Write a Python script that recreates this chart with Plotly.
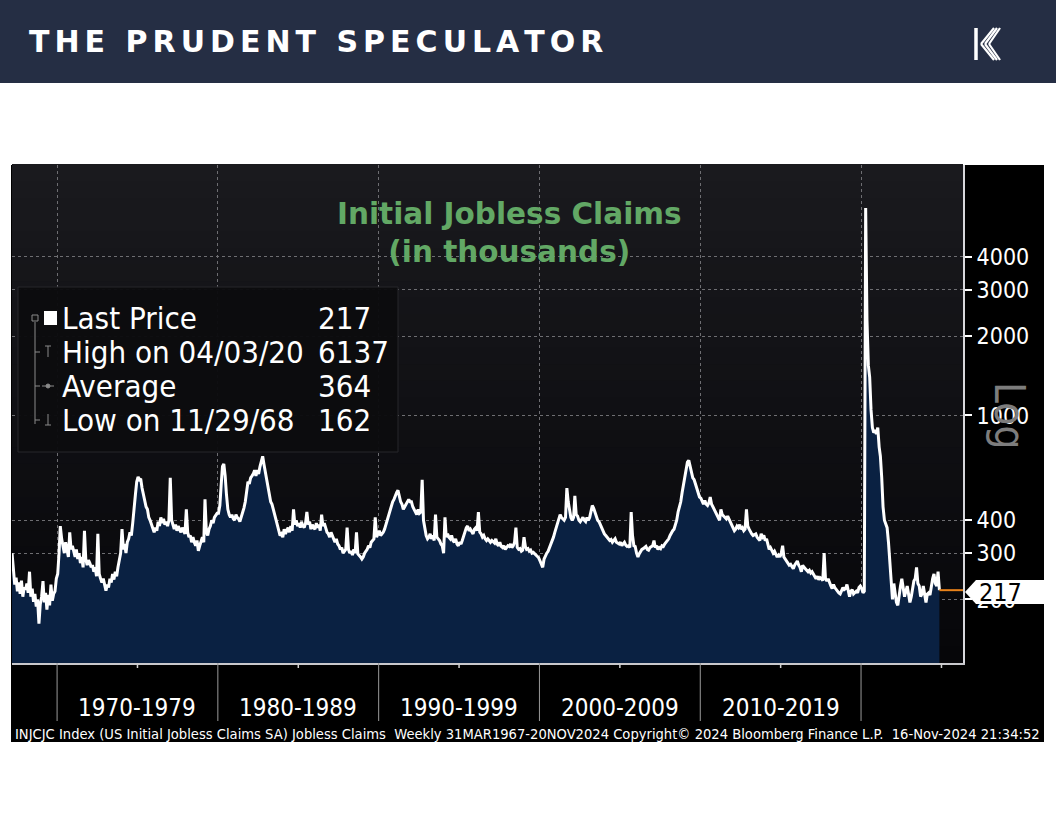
import pandas as pd
import plotly.graph_objects as go

# ---------------- data (thousands, monthly readings of the weekly series) ----------------
claims_1960s = [300, 250, 228, 242, 215, 232, 210, 236, 205, 222,            # 1967 Mar-Dec
                218, 230, 212, 255, 205, 220, 196, 210, 188, 200, 162, 192,  # 1968
                205, 235, 195, 212, 183, 208, 190, 228, 198, 210, 215, 240]  # 1969
claims_1970s = [250, 300, 380, 340, 320, 300, 330, 305, 290, 360, 310, 320,
                300, 290, 310, 285, 300, 275, 290, 265, 365, 285, 270, 282,
                275, 265, 270, 255, 265, 245, 355, 250, 240, 232, 240, 225,
                216, 228, 222, 240, 232, 250, 238, 255, 245, 265, 280, 300,
                370, 310, 325, 300, 330, 340, 360, 350, 390, 430, 500, 560,
                585, 570, 575, 530, 500, 470, 450, 440, 410, 400, 385, 370,
                360, 375, 365, 395, 380, 410, 390, 405, 385, 395, 380, 400,
                580, 400, 380, 370, 385, 365, 380, 372, 360, 375, 365, 355,
                440, 360, 345, 350, 330, 345, 330, 320, 335, 306, 320, 330,
                345, 330, 480, 360, 350, 370, 380, 400, 390, 410, 420, 425]
claims_1980s = [425, 455, 540, 640, 655, 590, 500, 440, 420, 410, 420, 405,
                400, 420, 410, 405, 395, 410, 420, 445, 470, 520, 560, 550,
                580, 590, 600, 620, 590, 620, 600, 640, 680, 700, 650, 610,
                560, 520, 500, 470, 460, 440, 420, 405, 380, 365, 350, 355,
                345, 370, 355, 365, 375, 360, 380, 365, 440, 385, 400, 380,
                390, 375, 395, 380, 375, 390, 430, 385, 395, 370, 385, 375,
                370, 390, 375, 385, 365, 420, 380, 390, 370, 360, 355, 345,
                360, 345, 340, 330, 340, 325, 320, 310, 315, 300, 305, 310,
                375, 310, 300, 305, 295, 310, 300, 360, 298, 295, 290, 285,
                290, 300, 305, 310, 320, 315, 330, 335, 340, 410, 345, 355]
claims_1990s = [365, 350, 355, 360, 370, 385, 400, 420, 440, 460, 470, 480,
                500, 510, 520, 490, 470, 460, 440, 450, 460, 470, 480, 470,
                470, 450, 440, 430, 420, 440, 425, 430, 570, 400, 370, 350,
                340, 345, 355, 340, 350, 335, 420, 345, 340, 335, 325, 320,
                300, 410, 345, 355, 345, 340, 350, 335, 330, 340, 325, 320,
                330, 325, 335, 350, 365, 375, 380, 365, 370, 360, 355, 370,
                375, 365, 430, 360, 355, 345, 350, 340, 335, 340, 335, 330,
                335, 330, 328, 340, 325, 320, 330, 318, 315, 320, 310, 315,
                320, 318, 325, 315, 320, 330, 375, 315, 310, 312, 305, 308,
                345, 318, 310, 312, 305, 308, 300, 302, 298, 296, 290, 288]
claims_2000s = [280, 272, 265, 285, 295, 300, 305, 315, 320, 330, 345, 360,
                375, 390, 400, 420, 410, 405, 400, 410, 530, 470, 430, 410,
                400, 410, 495, 420, 415, 400, 395, 405, 410, 400, 395, 410,
                400, 410, 430, 455, 445, 430, 410, 400, 395, 385, 370, 365,
                355, 350, 345, 340, 335, 338, 330, 335, 340, 330, 328, 325,
                330, 320, 325, 330, 322, 318, 320, 315, 430, 350, 320, 318,
                300, 290, 298, 305, 310, 312, 315, 318, 310, 308, 315, 318,
                320, 335, 315, 320, 310, 315, 312, 320, 318, 325, 330, 338,
                340, 350, 360, 365, 370, 385, 400, 430, 450, 470, 510, 550,
                590, 630, 665, 675, 640, 610, 580, 570, 550, 530, 510, 490]
claims_2010s = [485, 470, 460, 475, 460, 455, 465, 490, 460, 450, 440, 425,
                420, 410, 400, 440, 420, 415, 410, 405, 415, 405, 395, 380,
                375, 365, 370, 380, 375, 385, 370, 375, 365, 370, 440, 380,
                370, 360, 355, 350, 352, 355, 345, 340, 335, 355, 345, 350,
                335, 340, 325, 310, 315, 305, 300, 305, 295, 290, 295, 290,
                300, 320, 290, 285, 280, 275, 270, 272, 268, 262, 270, 275,
                280, 270, 265, 255, 270, 265, 262, 260, 255, 258, 252, 255,
                250, 245, 240, 245, 238, 242, 240, 236, 300, 240, 235, 240,
                230, 225, 220, 228, 222, 218, 215, 212, 210, 215, 222, 218,
                220, 228, 215, 205, 215, 218, 210, 212, 215, 212, 222, 225]
claims_2020s = [220, 212, 215, 6137, 2300, 1550, 1400, 1050, 900, 860, 880, 850,
                900, 760, 700, 580, 450, 400, 390, 375, 330, 270, 225, 200,
                230, 215, 195, 190, 210, 225, 240, 220, 205, 215, 225, 210,
                195, 205, 220, 235, 240, 265, 230, 225, 205, 210, 225, 205,
                195, 210, 212, 208, 225, 240, 250, 230, 225, 255, 217]

y_ticks = [200, 300, 400, 1000, 2000, 3000, 4000]
decade_starts = [1970, 1980, 1990, 2000, 2010, 2020]
decade_labels = ["1970-1979", "1980-1989", "1990-1999", "2000-2009", "2010-2019"]
legend_labels = ["Last Price", "High on 04/03/20", "Average", "Low on 11/29/68"]
legend_values = ["217", "6137", "364", "162"]
title_text = "Initial Jobless Claims<br>(in thousands)"
footer_text = ("INJCJC Index (US Initial Jobless Claims SA) Jobless Claims\u00a0 Weekly "
               "31MAR1967-20NOV2024 Copyright\u00a9 2024 Bloomberg Finance L.P.\u00a0 16-Nov-2024 21:34:52")
header_text = "THE PRUDENT SPECULATOR"

values = claims_1960s + claims_1970s + claims_1980s + claims_1990s + claims_2000s + claims_2010s + claims_2020s
dates = pd.date_range("1967-03-01", periods=len(values), freq="MS") + pd.Timedelta(days=14)
last_value = values[-1]

# ---------------- layout geometry ----------------
W, H = 1056, 816
L, R, T, B = 12, 963, 165, 663     # plot area in pixels
X_RANGE = ["1967-03-14", "2026-05-05"]
Y_RANGE = [2.0598, 3.9515]


def px(x):
    return (x - L) / (R - L)


def py(y):
    return (B - y) / (B - T)


FONT = "Tahoma, 'DejaVu Sans Condensed', 'DejaVu Sans', sans-serif"
BOLD_FONT = "Verdana, 'DejaVu Sans', sans-serif"

fig = go.Figure()
fig.add_trace(go.Scatter(x=dates, y=[50] * len(values), mode="lines",
                         line=dict(width=0, color="rgba(0,0,0,0)"), hoverinfo="skip", showlegend=False))
fig.add_trace(go.Scatter(x=dates, y=values, mode="lines", fill="tonexty",
                         fillcolor="#0a2142", line=dict(color="white", width=3),
                         showlegend=False))

shapes = []
# header bar
shapes.append(dict(type="rect", xref="paper", yref="paper", x0=px(0), x1=px(W), y0=py(0), y1=py(83),
                   fillcolor="#252e44", line=dict(width=0), layer="below"))
# black chart frame
shapes.append(dict(type="rect", xref="paper", yref="paper", x0=px(11), x1=px(1044), y0=py(165), y1=py(742),
                   fillcolor="#000000", line=dict(width=0), layer="below"))
# plot background gradient
NB = 30
top_c, bot_c = (26, 26, 30), (6, 6, 9)
for i in range(NB):
    f = (i + 0.5) / NB
    c = tuple(int(round(bot_c[k] + (top_c[k] - bot_c[k]) * f)) for k in range(3))
    shapes.append(dict(type="rect", xref="x domain", yref="y domain", x0=0, x1=1,
                       y0=i / NB, y1=(i + 1) / NB + 0.002,
                       fillcolor="rgb(%d,%d,%d)" % c, line=dict(width=0), layer="below"))

# decade separators below axis and mid-decade ticks
for d in decade_starts:
    shapes.append(dict(type="line", xref="x", yref="paper", x0=f"{d}-01-01", x1=f"{d}-01-01",
                       y0=0, y1=py(721), line=dict(color="#9a9a9a", width=1)))
    shapes.append(dict(type="line", xref="x", yref="paper", x0=f"{d + 5}-01-01", x1=f"{d + 5}-01-01",
                       y0=0, y1=py(668), line=dict(color="#d0d0d0", width=1.5)))

# orange last-value line
shapes.append(dict(type="line", xref="x", yref="y", x0=dates[-1], x1=X_RANGE[1],
                   y0=last_value, y1=last_value, line=dict(color="#e8821a", width=2)))

# legend box
shapes.append(dict(type="rect", xref="paper", yref="paper", x0=px(18), x1=px(398), y0=py(452), y1=py(287),
                   fillcolor="rgba(12,12,14,0.97)", line=dict(color="#26262a", width=1), layer="above"))
# legend tree
shapes.append(dict(type="line", xref="paper", yref="paper", x0=px(35), x1=px(35), y0=py(322), y1=py(424),
                   line=dict(color="#8a8a8a", width=1), layer="above"))
shapes.append(dict(type="rect", xref="paper", yref="paper", x0=px(32), x1=px(38), y0=py(321), y1=py(315),
                   fillcolor="#111", line=dict(color="#8a8a8a", width=1), layer="above"))
for yy in (352, 386, 420):
    shapes.append(dict(type="line", xref="paper", yref="paper", x0=px(35), x1=px(40), y0=py(yy), y1=py(yy),
                       line=dict(color="#8a8a8a", width=1), layer="above"))
# High glyph (T), average glyph, low glyph
shapes.append(dict(type="line", xref="paper", yref="paper", x0=px(48), x1=px(48), y0=py(357), y1=py(346),
                   line=dict(color="#8a8a8a", width=1), layer="above"))
shapes.append(dict(type="line", xref="paper", yref="paper", x0=px(45), x1=px(51), y0=py(346), y1=py(346),
                   line=dict(color="#8a8a8a", width=1), layer="above"))
shapes.append(dict(type="line", xref="paper", yref="paper", x0=px(42), x1=px(54), y0=py(386), y1=py(386),
                   line=dict(color="#8a8a8a", width=1), layer="above"))
shapes.append(dict(type="circle", xref="paper", yref="paper", x0=px(46), x1=px(50), y0=py(388), y1=py(384),
                   fillcolor="#8a8a8a", line=dict(color="#8a8a8a", width=1), layer="above"))
shapes.append(dict(type="line", xref="paper", yref="paper", x0=px(48), x1=px(48), y0=py(425), y1=py(414),
                   line=dict(color="#8a8a8a", width=1), layer="above"))
shapes.append(dict(type="line", xref="paper", yref="paper", x0=px(45), x1=px(51), y0=py(425), y1=py(425),
                   line=dict(color="#8a8a8a", width=1), layer="above"))
# white square legend marker
shapes.append(dict(type="rect", xref="paper", yref="paper", x0=px(44), x1=px(57), y0=py(325), y1=py(311),
                   fillcolor="white", line=dict(width=0), layer="above"))

# last price tag
path = "M {} {} L {} {} L {} {} L {} {} L {} {} Z".format(
    px(965), py(592), px(976), py(580), px(1044), py(580), px(1044), py(604), px(976), py(604))
shapes.append(dict(type="path", xref="paper", yref="paper", path=path, fillcolor="white",
                   line=dict(width=0), layer="above"))


# logo (stylised K)
def seg(x0, y0, x1, y1, w=3):
    shapes.append(dict(type="line", xref="paper", yref="paper", x0=px(x0), y0=py(y0), x1=px(x1), y1=py(y1),
                       line=dict(color="white", width=w), layer="above"))


seg(976, 28, 976, 60, 3.5)
for k in range(3):
    seg(981 + k * 4, 44, 994 + k * 3, 28, 2.2)
    seg(981 + k * 4, 44, 994 + k * 3, 60, 2.2)

annotations = []
# header text
spaced = "\u2006".join(list(header_text))
annotations.append(dict(text="<b>" + spaced + "</b>", xref="paper", yref="paper", x=px(27), y=py(41),
                        xanchor="left", yanchor="middle", showarrow=False,
                        font=dict(family="'DejaVu Sans', sans-serif", size=30, color="white")))
# title
annotations.append(dict(text="<b>" + title_text + "</b>", xref="paper", yref="paper", x=px(510), y=py(233),
                        xanchor="center", yanchor="middle", showarrow=False,
                        font=dict(family=BOLD_FONT, size=29.5, color="#62a865")))
# legend texts
for i, (lab, val) in enumerate(zip(legend_labels, legend_values)):
    yy = 318 + 34 * i
    annotations.append(dict(text=lab, xref="paper", yref="paper", x=px(60), y=py(yy), xanchor="left",
                            yanchor="middle", showarrow=False, font=dict(family=FONT, size=31, color="white")))
    annotations.append(dict(text=val, xref="paper", yref="paper", x=px(316), y=py(yy), xanchor="left",
                            yanchor="middle", showarrow=False, font=dict(family=FONT, size=31, color="white")))
# decade labels
for d, lab in zip(decade_starts, decade_labels):
    annotations.append(dict(text=lab, xref="x", yref="paper", x=f"{d + 5}-01-01", y=py(708),
                            xanchor="center", yanchor="middle", showarrow=False,
                            font=dict(family=FONT, size=24, color="white")))
# Log label
annotations.append(dict(text="Log", xref="paper", yref="paper", x=px(1010), y=py(416), xanchor="center",
                        yanchor="middle", showarrow=False, textangle=90,
                        font=dict(family=FONT, size=42, color="#7d7d7d")))
# last price tag text
annotations.append(dict(text=str(last_value), xref="paper", yref="paper", x=px(977), y=py(592), xanchor="left",
                        yanchor="middle", showarrow=False, font=dict(family=FONT, size=25, color="black")))
# footer
annotations.append(dict(text=footer_text, xref="paper", yref="paper", x=px(13), y=py(733), xanchor="left",
                        yanchor="middle", showarrow=False, font=dict(family=FONT, size=14.6, color="white")))

fig.update_layout(
    width=W, height=H,
    margin=dict(l=L, r=W - R, t=T, b=H - B),
    paper_bgcolor="white", plot_bgcolor="rgba(0,0,0,0)",
    shapes=shapes, annotations=annotations, showlegend=False,
    xaxis=dict(type="date", range=X_RANGE, tickvals=[f"{d}-01-01" for d in decade_starts],
               showticklabels=False, ticks="", showgrid=True, gridcolor="#6e6e72", griddash="dot",
               gridwidth=1, showline=True, linecolor="#c8c8cc", linewidth=2, zeroline=False),
    yaxis=dict(type="log", range=Y_RANGE, side="right", tickvals=y_ticks, ticktext=[str(v) for v in y_ticks],
               ticks="outside", ticklen=7, tickcolor="white", tickwidth=2,
               tickfont=dict(family=FONT, size=23, color="white"),
               showgrid=True, gridcolor="#6e6e72", griddash="dot", gridwidth=1,
               showline=True, linecolor="#d8d8dc", linewidth=2, zeroline=False),
    font=dict(family=FONT),
)

fig.write_html("out.html", config={"displayModeBar": False},
               post_script="document.body.style.margin='0';document.body.style.padding='0';"
                           "document.body.style.overflow='hidden';")
